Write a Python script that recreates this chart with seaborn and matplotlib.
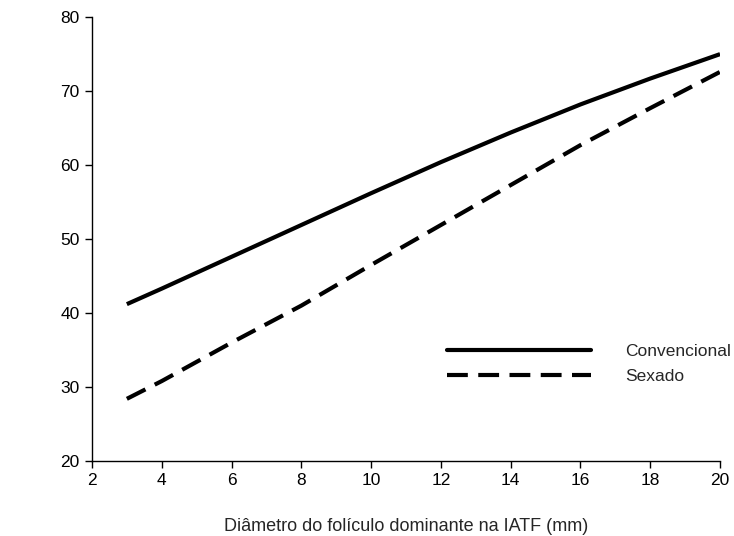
import matplotlib
matplotlib.use("Agg")
import matplotlib.pyplot as plt
import seaborn as sns
import pandas as pd
from matplotlib.lines import Line2D

diametro = [3, 4, 6, 8, 10, 12, 14, 16, 18, 20]
convencional = [41.2, 43.3, 47.6, 51.9, 56.2, 60.4, 64.4, 68.2, 71.7, 75.0]
sexado = [28.4, 30.8, 36.0, 41.0, 46.5, 51.9, 57.3, 62.7, 67.7, 72.6]
series_names = ["Convencional", "Sexado"]
xticks = [2, 4, 6, 8, 10, 12, 14, 16, 18, 20]
yticks = [20, 30, 40, 50, 60, 70, 80]

df = pd.DataFrame({
    "x": diametro * 2,
    "y": convencional + sexado,
    "grupo": [series_names[0]] * len(diametro) + [series_names[1]] * len(diametro),
})

sns.set_theme(style="ticks")
plt.rcParams["font.family"] = ["Liberation Sans", "DejaVu Sans"]

fig = plt.figure(figsize=(7.34, 5.36), dpi=100)
ax = fig.add_axes([0.1253, 0.140, 0.8557, 0.828])

LW = 3.0
DASH = (5, 2.5)
sns.lineplot(data=df, x="x", y="y", hue="grupo", style="grupo",
             palette=["black", "black"], dashes=[(1, 0), DASH],
             linewidth=LW, ax=ax, legend=False)

ax.set_xlim(2, 20)
ax.set_ylim(20, 80)
ax.set_xticks(xticks)
ax.set_yticks(yticks)
ax.tick_params(axis="both", direction="out", length=5, width=1, labelsize=12.5,
               colors="black", pad=4)
for s in ["top", "right"]:
    ax.spines[s].set_visible(False)
for s in ["left", "bottom"]:
    ax.spines[s].set_linewidth(1)
    ax.spines[s].set_color("black")

ax.set_xlabel("Diâmetro do folículo dominante na IATF (mm)", fontsize=13, labelpad=21)
ax.set_ylabel("")

handles = [Line2D([], [], color="black", lw=LW),
           Line2D([], [], color="black", lw=LW, dashes=DASH)]
ax.legend(handles, series_names, loc="center left", bbox_to_anchor=(0.565, 0.218),
          frameon=False, handlelength=8.3, handletextpad=1.95, fontsize=12.5,
          labelspacing=0.55, borderpad=0, borderaxespad=0)

fig.savefig("out.png", dpi=100)
